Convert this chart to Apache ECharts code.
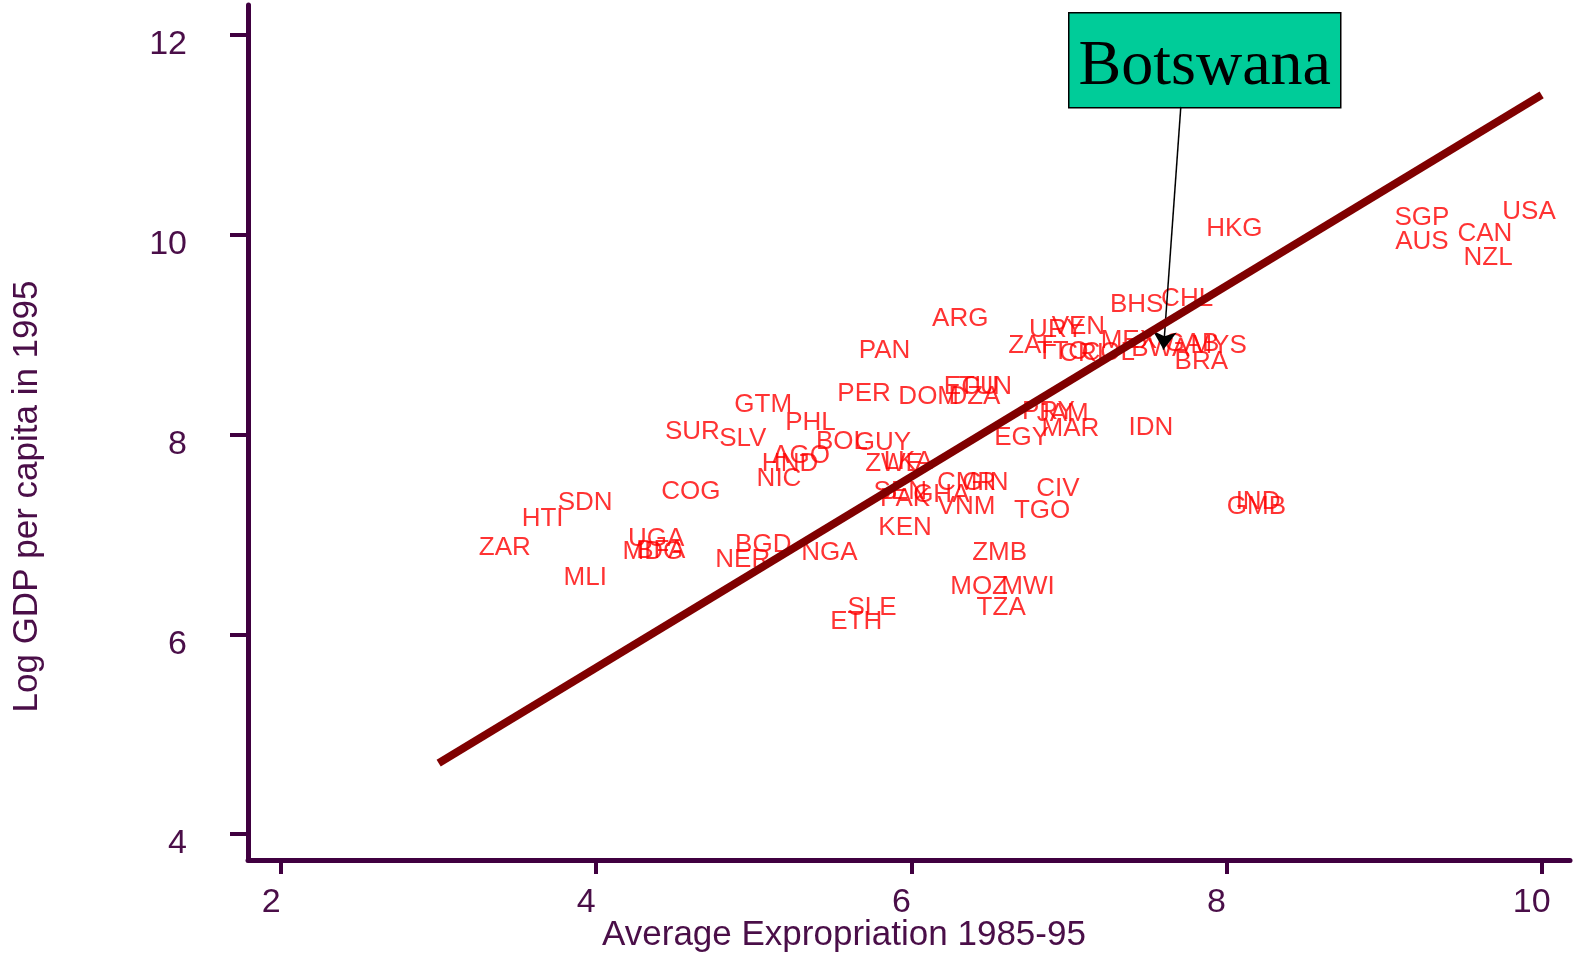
<!DOCTYPE html>
<html>
<head>
<meta charset="utf-8">
<script src="https://cdn.jsdelivr.net/npm/echarts@6/dist/echarts.min.js"></script>
<style>
  html, body { margin: 0; padding: 0; background: #fff; }
  #chart { width: 1573px; height: 955px; }
</style>
</head>
<body>
<div id="chart"></div>
<script>
var codes = ["ZAR", "HTI", "SDN", "MLI", "UGA", "MDG", "BFA", "COG", "SUR", "SLV",
    "GTM", "PHL", "AGO", "HND", "NIC", "BOL", "GUY", "BGD", "NER", "NGA",
    "PER", "PAN", "ARG", "DOM", "DZA", "ECU", "TUN", "ZWE", "LKA", "SEN",
    "PAK", "GHA", "CMR", "GIN", "VNM", "KEN", "ZMB", "MOZ", "MWI", "TZA",
    "SLE", "ETH", "CIV", "TGO", "IND", "GMB", "IDN", "EGY", "MAR", "PRY",
    "JAM", "ZAF", "URY", "VEN", "TTO", "CRI", "COL", "MEX", "BWA", "GAB",
    "MYS", "BRA", "BHS", "CHL", "HKG", "SGP", "AUS", "CAN", "NZL", "USA"];
var expro = [3.42, 3.66, 3.93, 3.93, 4.38, 4.36, 4.41, 4.60, 4.61, 4.93,
    5.06, 5.36, 5.30, 5.23, 5.16, 5.56, 5.82, 5.06, 4.93, 5.48,
    5.70, 5.83, 6.31, 6.11, 6.40, 6.38, 6.47, 5.89, 5.98, 5.93,
    5.96, 6.19, 6.35, 6.47, 6.35, 5.96, 6.56, 6.43, 6.74, 6.57,
    5.75, 5.65, 6.93, 6.83, 8.20, 8.19, 7.52, 6.70, 7.01, 6.87,
    6.96, 6.77, 6.92, 7.06, 6.96, 7.08, 7.25, 7.38, 7.58, 7.78,
    7.95, 7.84, 7.43, 7.75, 8.05, 9.24, 9.24, 9.64, 9.66, 9.92];
var gdp = [6.87, 7.16, 7.32, 6.57, 6.96, 6.83, 6.84, 7.43, 8.03, 7.96,
    8.30, 8.12, 7.79, 7.71, 7.56, 7.93, 7.92, 6.90, 6.75, 6.82,
    8.41, 8.84, 9.16, 8.38, 8.38, 8.48, 8.48, 7.71, 7.73, 7.43,
    7.36, 7.40, 7.52, 7.52, 7.28, 7.07, 6.82, 6.47, 6.47, 6.26,
    6.26, 6.12, 7.46, 7.24, 7.33, 7.28, 8.07, 7.97, 8.06, 8.23,
    8.21, 8.89, 9.05, 9.08, 8.83, 8.81, 8.82, 8.94, 8.86, 8.91,
    8.89, 8.73, 9.30, 9.36, 10.06, 10.17, 9.93, 10.01, 9.77, 10.23];

// fitted line end points
var fitX = [3.0, 10.0];
var fitY = [4.71, 11.40];

var xTicks = [2, 4, 6, 8, 10];
var yTicks = [4, 6, 8, 10, 12];

var noteText = "Botswana";
var noteFrom = [7.71, 11.28];
var noteTo = [7.60, 8.85];

var axisColor = "#400040";
var textColor = "#4a0e48";
var font = "Arial, 'Liberation Sans', sans-serif";

var points = [];
for (var i = 0; i < codes.length; i++) {
    points.push({ name: codes[i], value: [expro[i], gdp[i]] });
}
var fitLine = [];
for (var j = 0; j < fitX.length; j++) {
    fitLine.push([fitX[j], fitY[j]]);
}

var chart = echarts.init(document.getElementById("chart"), null, { renderer: "canvas" });

var option = {
    animation: false,
    backgroundColor: "#fff",
    grid: { left: 248, right: 3, top: 5, bottom: 95, containLabel: false, outerBoundsMode: "none" },
    xAxis: {
        type: "value",
        min: 1.79,
        max: 10.18,
        name: "Average Expropriation 1985-95",
        nameLocation: "middle",
        nameGap: 58,
        nameMoveOverlap: false,
        nameTextStyle: { color: textColor, fontSize: 35, fontFamily: font, padding: [0, 130, 0, 0] },
        axisLine: { onZero: false, lineStyle: { color: axisColor, width: 5 } },
        axisTick: { show: true, length: 14, customValues: xTicks, lineStyle: { color: axisColor, width: 4 } },
        axisLabel: { customValues: xTicks, margin: 26, color: textColor, fontSize: 34, fontFamily: font, padding: [0, 20, 0, 0] },
        splitLine: { show: false }
    },
    yAxis: {
        type: "value",
        min: 3.74,
        max: 12.3,
        name: "Log GDP per capita in 1995",
        nameLocation: "middle",
        nameGap: 203,
        nameMoveOverlap: false,
        nameTextStyle: { color: textColor, fontSize: 35, fontFamily: font, padding: [0, 128, 0, 0] },
        axisLine: { show: true, onZero: false, lineStyle: { color: axisColor, width: 5 } },
        axisTick: { show: true, length: 18, customValues: yTicks, lineStyle: { color: axisColor, width: 4 } },
        axisLabel: {
            customValues: yTicks, margin: 61, color: textColor, fontSize: 34, fontFamily: font,
            verticalAlign: "top", lineHeight: 20
        },
        splitLine: { show: false }
    },
    graphic: [{
        type: "group",
        left: 1068,
        top: 12,
        children: [{
            type: "rect",
            shape: { x: 0, y: 0, width: 272, height: 95 },
            style: { fill: "#00cc99", stroke: "#000", lineWidth: 1.5 }
        }, {
            type: "text",
            x: 136,
            y: 54,
            style: {
                text: noteText,
                fill: "#000",
                font: "64px 'Liberation Serif', 'Times New Roman', serif",
                align: "center",
                verticalAlign: "middle"
            }
        }]
    }],
    series: [{
        name: "countries",
        type: "scatter",
        data: points,
        symbolSize: 1,
        itemStyle: { color: "rgba(0,0,0,0)" },
        label: {
            show: true,
            position: "inside",
            formatter: "{b}",
            color: "#ff0000",
            fontSize: 26,
            fontFamily: font
        },
        z: 2
    }, {
        name: "fit",
        type: "line",
        data: fitLine,
        symbol: "none",
        lineStyle: { color: "#800000", width: 8 },
        z: 5,
        markLine: {
            silent: true,
            symbol: ["none", "arrow"],
            symbolSize: 18,
            label: { show: false },
            lineStyle: { color: "#000", width: 1.5, type: "solid" },
            data: [[{ coord: noteFrom }, { coord: noteTo }]]
        }
    }]
};
chart.setOption(option);
window.addEventListener("resize", function () {
    chart.resize();
});
</script>
</body>
</html>
